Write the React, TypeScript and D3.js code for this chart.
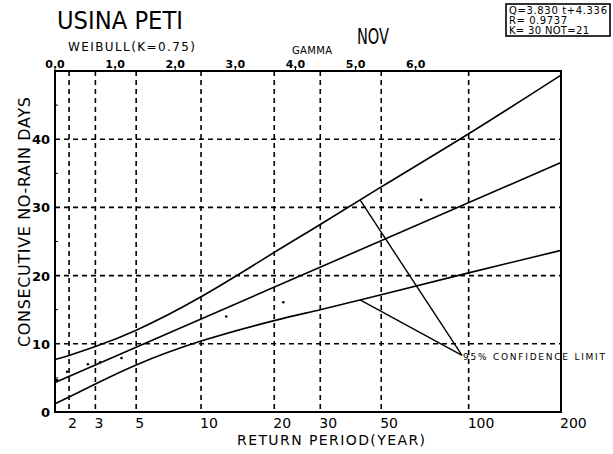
import React from "react";
import * as d3 from "d3";

// ---- data ----
const eventsPerYear = 21 / 30; // NOT / K
const weibullK = 0.75;
const gridPeriods = [2, 3, 5, 10, 20, 30, 50, 100];
const xLabelPeriods = [2, 3, 5, 10, 20, 30, 50, 100, 200];
const xLabels = ["2", "3", "5", "10", "20", "30", "50", "100", "200"];
const yTicks = [0, 10, 20, 30, 40];
const yGrid = [10, 20, 30, 40];
const yMinor = [5, 15, 25, 35, 45];
const topTicks = [0, 1, 2, 3, 4, 5, 6];
const topLabels = ["0.0", "1.0", "2.0", "3.0", "4.0", "5.0", "6.0"];
const regSlope = 3.83;
const regIntercept = 4.336;
const bandPeriods = [1.43, 2, 3, 5, 10, 20, 30, 50, 100, 200];
const upperLimit = [7.7, 8.3, 9.6, 12.0, 16.9, 23.4, 27.5, 33.0, 40.8, 49.4];
const lowerLimit = [1.2, 2.2, 4.1, 6.9, 10.4, 13.4, 15.0, 17.2, 20.4, 23.7];
const obsPeriods = [1.55, 1.93, 2.7, 3.2, 4.2, 12.8, 21.7, 69];
const obsValues = [4.7, 5.9, 7.0, 7.3, 7.9, 14.0, 16.1, 31.1];
const pointerPeriod = 42;
const labelAnchorPeriod = 95;
const labelAnchorValue = 8.3;
const boxLines = ["Q=3.830 t+4.336", "R= 0.9737", "K= 30  NOT=21"];

const W = 613;
const H = 454;
const M = { left: 55, right: 561, top: 71, bottom: 412 };

const reduced = (T: number) =>
  Math.pow(Math.max(0, Math.log(eventsPerYear * T)), 1 / weibullK);

export default function App() {
  const tMax = reduced(200);
  const x = d3.scaleLinear().domain([0, tMax]).range([M.left, M.right]);
  const y = d3.scaleLinear().domain([0, 50]).range([M.bottom, M.top]);
  const xT = (T: number) => x(reduced(T));

  const bandT = bandPeriods.map(reduced);
  const upperAt = d3.scaleLinear().domain(bandT).range(upperLimit);
  const lowerAt = d3.scaleLinear().domain(bandT).range(lowerLimit);

  const curve = d3
    .line<[number, number]>()
    .x((d) => x(d[0]))
    .y((d) => y(d[1]))
    .curve(d3.curveNatural);

  const upperPath = curve(bandT.map((t, i) => [t, upperLimit[i]]))!;
  const lowerPath = curve(bandT.map((t, i) => [t, lowerLimit[i]]))!;
  const regPath = d3
    .line<number>()
    .x((t) => x(t))
    .y((t) => y(regSlope * t + regIntercept))([0, tMax])!;

  const pt = reduced(pointerPeriod);
  const ax = xT(labelAnchorPeriod);
  const ay = y(labelAnchorValue);

  const font = "DejaVu Sans, sans-serif";
  const dash = "5,4";

  return (
    <svg
      width={W}
      height={H}
      style={{ position: "absolute", left: 0, top: 0, background: "#fff" }}
      fontFamily={font}
    >
      <rect x={0} y={0} width={W} height={H} fill="#fff" />
      {/* grid */}
      {gridPeriods.map((T) => (
        <line
          key={"gx" + T}
          x1={xT(T)}
          x2={xT(T)}
          y1={M.top}
          y2={M.bottom}
          stroke="#000"
          strokeWidth={1.6}
          strokeDasharray={dash}
        />
      ))}
      {yGrid.map((v) => (
        <line
          key={"gy" + v}
          x1={M.left}
          x2={M.right}
          y1={y(v)}
          y2={y(v)}
          stroke="#000"
          strokeWidth={1.6}
          strokeDasharray={dash}
        />
      ))}
      {/* frame */}
      <rect
        x={M.left}
        y={M.top}
        width={M.right - M.left}
        height={M.bottom - M.top}
        fill="none"
        stroke="#000"
        strokeWidth={2}
      />
      {yMinor.map((v) => (
        <line key={"ym" + v} x1={M.left} x2={M.left + 3} y1={y(v)} y2={y(v)} stroke="#000" strokeWidth={1} />
      ))}
      {topTicks.map((t) => (
        <line key={"tt" + t} x1={x(t)} x2={x(t)} y1={M.top} y2={M.top - 3} stroke="#000" strokeWidth={1} />
      ))}
      {/* curves */}
      <path d={upperPath} fill="none" stroke="#000" strokeWidth={1.6} />
      <path d={lowerPath} fill="none" stroke="#000" strokeWidth={1.6} />
      <path d={regPath} fill="none" stroke="#000" strokeWidth={1.6} />
      {obsPeriods.map((T, i) => (
        <circle key={"o" + i} cx={xT(T)} cy={y(obsValues[i])} r={1.3} fill="#000" />
      ))}
      {/* annotation */}
      <line x1={x(pt)} y1={y(upperAt(pt))} x2={ax} y2={ay} stroke="#000" strokeWidth={1.4} />
      <line x1={x(pt)} y1={y(lowerAt(pt))} x2={ax} y2={ay} stroke="#000" strokeWidth={1.4} />
      <text x={ax + 1} y={ay + 5} fontSize={9} textLength={142} lengthAdjust="spacing">
        95% CONFIDENCE LIMIT
      </text>
      {/* y tick labels */}
      {yTicks.map((v) => (
        <text
          key={"yl" + v}
          x={M.left - 5}
          y={y(v) + 5}
          fontSize={13}
          fontWeight="bold"
          textAnchor="end"
        >
          {v}
        </text>
      ))}
      {/* x tick labels */}
      {xLabelPeriods.map((T, i) => (
        <text key={"xl" + T} x={xT(T) - 1} y={428} fontSize={14}>
          {xLabels[i]}
        </text>
      ))}
      {/* top labels */}
      {topTicks.map((t, i) => (
        <text key={"tl" + t} x={x(t)} y={68} fontSize={11} textAnchor="middle" fontWeight="bold">
          {topLabels[i]}
        </text>
      ))}
      {/* titles */}
      <text x={57} y={29} fontSize={24} textLength={126} lengthAdjust="spacingAndGlyphs">
        USINA PETI
      </text>
      <text x={357} y={44} fontSize={22} textLength={32} lengthAdjust="spacingAndGlyphs">
        NOV
      </text>
      <text x={68} y={51} fontSize={12} textLength={127} lengthAdjust="spacing">
        WEIBULL(K=0.75)
      </text>
      <text x={292} y={54} fontSize={10} textLength={40} lengthAdjust="spacing">
        GAMMA
      </text>
      <text x={237} y={445} fontSize={14} textLength={188} lengthAdjust="spacing">
        RETURN PERIOD(YEAR)
      </text>
      <text
        transform={`translate(30,${222}) rotate(-90)`}
        fontSize={16}
        textAnchor="middle"
        textLength={250}
        lengthAdjust="spacing"
      >
        CONSECUTIVE NO-RAIN DAYS
      </text>
      {/* box */}
      <rect x={506} y={4} width={104} height={32} fill="none" stroke="#000" strokeWidth={1.6} />
      {boxLines.map((s, i) => (
        <text key={"b" + i} x={509} y={14 + i * 10} fontSize={10} textLength={i === 0 ? 98 : i === 1 ? 58 : 80} lengthAdjust="spacing">
          {s}
        </text>
      ))}
    </svg>
  );
}
